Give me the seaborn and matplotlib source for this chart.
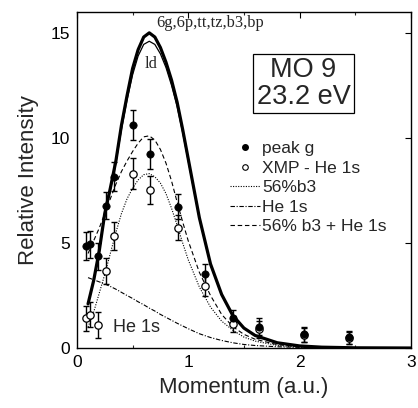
import matplotlib
matplotlib.use("Agg")
import matplotlib.pyplot as plt
import seaborn as sns
import pandas as pd
from matplotlib.lines import Line2D
from matplotlib.ticker import MultipleLocator

# ---- data ----
# experimental points
peak_x = [0.08, 0.12, 0.19, 0.26, 0.335, 0.50, 0.66, 0.91, 1.15, 1.40, 1.64, 2.04, 2.44]
peak_y = [4.85, 4.93, 4.37, 6.78, 8.15, 10.6, 9.23, 6.73, 3.50, 1.42, 1.02, 0.66, 0.51]
peak_err = [0.65, 0.65, 0.65, 0.65, 0.70, 0.72, 0.70, 0.60, 0.52, 0.38, 0.40, 0.35, 0.30]

xmp_x = [0.08, 0.12, 0.19, 0.26, 0.335, 0.50, 0.66, 0.91, 1.15, 1.40, 1.64, 2.04, 2.44]
xmp_y = [1.42, 1.58, 1.10, 3.68, 5.33, 8.30, 7.53, 5.72, 2.96, 1.15, 0.90, 0.62, 0.48]
xmp_err = [0.60, 0.60, 0.62, 0.62, 0.65, 0.74, 0.68, 0.60, 0.50, 0.38, 0.40, 0.35, 0.30]

# theory curves (momentum grid shared by all)
p = [0.10, 0.15, 0.20, 0.25, 0.30, 0.35, 0.40, 0.45, 0.50, 0.55, 0.60, 0.65, 0.70,
     0.75, 0.80, 0.85, 0.90, 0.95, 1.00, 1.10, 1.20, 1.30, 1.40, 1.50, 1.60, 1.80,
     2.00, 2.20, 2.50, 3.00]
theory_6g = [2.10, 3.20, 4.60, 6.40, 7.60, 8.90, 10.6, 12.0, 13.3, 14.2, 14.8, 15.0, 14.8,
             14.3, 13.6, 12.75, 11.7, 10.4, 9.00, 6.20, 4.00, 2.55, 1.55, 0.95, 0.60, 0.25,
             0.10, 0.04, 0.01, 0.0]
theory_ld = [2.10, 3.20, 4.55, 6.30, 7.50, 8.80, 10.4, 11.8, 13.0, 13.9, 14.45, 14.6, 14.45,
             14.0, 13.35, 12.5, 11.5, 10.25, 8.90, 6.15, 3.95, 2.52, 1.53, 0.94, 0.59, 0.25,
             0.10, 0.04, 0.01, 0.0]
b3_56 = [1.00, 1.70, 2.60, 3.50, 4.50, 5.50, 6.40, 7.10, 7.60, 8.00, 8.25, 8.30, 8.15,
         7.85, 7.35, 6.65, 5.85, 5.00, 4.20, 2.90, 1.95, 1.28, 0.85, 0.52, 0.33, 0.12,
         0.04, 0.01, 0.0, 0.0]
he1s = [3.35, 3.25, 3.15, 3.05, 2.93, 2.80, 2.65, 2.50, 2.36, 2.20, 2.06, 1.90, 1.76,
        1.60, 1.46, 1.32, 1.18, 1.05, 0.92, 0.68, 0.50, 0.36, 0.25, 0.17, 0.12, 0.06,
        0.03, 0.01, 0.0, 0.0]
b3_he = [4.50, 5.10, 5.70, 6.40, 7.10, 7.80, 8.40, 8.90, 9.35, 9.75, 10.05, 10.1, 9.90,
         9.45, 8.80, 7.95, 6.95, 6.00, 5.10, 3.60, 2.50, 1.60, 1.02, 0.65, 0.42, 0.16,
         0.06, 0.02, 0.0, 0.0]

legend_labels = ["peak g", "XMP - He 1s", "56%b3", "He 1s", "56% b3 + He 1s"]

# ---- figure ----
sns.set_theme(style="white")
plt.rcParams["font.family"] = ["Liberation Sans", "DejaVu Sans"]
fig = plt.figure(figsize=(4.18, 4.08), dpi=100)
ax = fig.add_axes([0.184, 0.147, 0.799, 0.824])

curves = pd.DataFrame({"p": p, "g6": theory_6g, "ld": theory_ld, "b3": b3_56,
                       "he": he1s, "b3he": b3_he})

sns.lineplot(data=curves, x="p", y="ld", ax=ax, color="black", lw=0.9)
sns.lineplot(data=curves, x="p", y="g6", ax=ax, color="black", lw=2.3)
sns.lineplot(data=curves, x="p", y="b3", ax=ax, color="black", lw=0.8,
             linestyle=(0, (1, 1.3)))
sns.lineplot(data=curves, x="p", y="he", ax=ax, color="black", lw=0.8,
             linestyle=(0, (4, 1.5, 1, 1.5)))
sns.lineplot(data=curves, x="p", y="b3he", ax=ax, color="black", lw=0.8,
             linestyle=(0, (4, 2.5)))

ax.errorbar(xmp_x, xmp_y, yerr=xmp_err, fmt="none", ecolor="black",
            elinewidth=1.0, capsize=2.5, capthick=1.0, zorder=3)
ax.errorbar(peak_x, peak_y, yerr=peak_err, fmt="none", ecolor="black",
            elinewidth=1.0, capsize=2.5, capthick=1.0, zorder=3)
pts_x = pd.DataFrame({"x": xmp_x, "y": xmp_y})
pts_p = pd.DataFrame({"x": peak_x, "y": peak_y})
sns.scatterplot(data=pts_x, x="x", y="y", ax=ax, s=28, facecolor="white",
                edgecolor="black", linewidth=0.9, zorder=4)
sns.scatterplot(data=pts_p, x="x", y="y", ax=ax, s=28, color="black",
                edgecolor="black", linewidth=0.5, zorder=5)

ax.set_xlim(0, 3)
ax.set_ylim(0, 16)
ax.set_xticks([0, 1, 2, 3])
ax.set_yticks([0, 5, 10, 15])
ax.xaxis.set_minor_locator(MultipleLocator(0.5))
ax.tick_params(which="major", direction="in", length=4, width=0.8,
               top=True, right=True, labelsize=12.5, colors="black", pad=5)
ax.tick_params(which="minor", direction="in", length=2.5, width=0.8,
               top=True, right=True, bottom=True)
for s in ax.spines.values():
    s.set_color("black")
    s.set_linewidth(1.0)
ax.set_xlabel("Momentum (a.u.)", fontsize=16, labelpad=5)
ax.set_ylabel("Relative Intensity", fontsize=16, labelpad=8)

ax.text(1.2, 15.45, "6g,6p,tt,tz,b3,bp", family="Liberation Serif", fontsize=11.8,
        ha="center", va="center")
ax.text(0.665, 13.5, "ld", family="Liberation Serif", fontsize=11.8,
        ha="center", va="center")
ax.text(0.32, 1.0, "He 1s", fontsize=13, ha="left", va="center")
ax.text(2.035, 12.58, "MO 9\n23.2 eV", fontsize=19.5, ha="center", va="center",
        linespacing=1.05,
        bbox=dict(boxstyle="square,pad=0.12", facecolor="white",
                  edgecolor="black", linewidth=0.9))

handles = [
    Line2D([], [], color="black", marker="o", linestyle="none", markersize=4),
    Line2D([], [], color="black", marker="o", markerfacecolor="white",
           linestyle="none", markersize=4, markeredgewidth=0.8),
    Line2D([], [], color="black", lw=0.8, linestyle=(0, (1, 1.3))),
    Line2D([], [], color="black", lw=0.8, linestyle=(0, (4, 1.5, 1, 1.5))),
    Line2D([], [], color="black", lw=0.8, linestyle=(0, (4, 2.5))),
]
ax.legend(handles, legend_labels, loc="upper left", bbox_to_anchor=(0.458, 0.615),
          frameon=False, fontsize=12.5, handlelength=1.75, handletextpad=0.12,
          labelspacing=0.25, borderpad=0, borderaxespad=0)

fig.savefig("out.png", dpi=100)
